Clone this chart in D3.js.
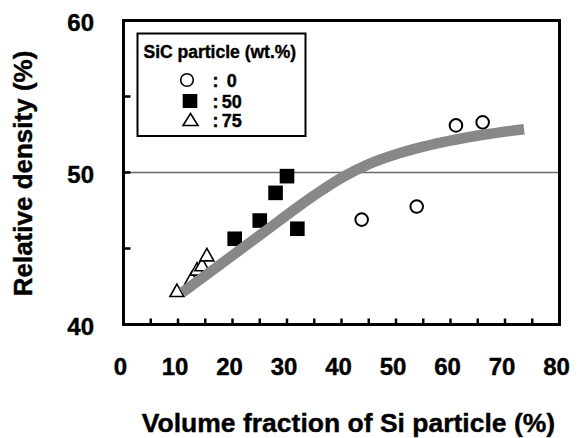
<!DOCTYPE html>
<html>
<head>
<meta charset="utf-8">
<script src="https://cdn.jsdelivr.net/npm/d3@7"></script>
<style>
html,body{margin:0;padding:0;background:#fff;}
svg{display:block;}
text{font-family:"Liberation Sans",Arial,sans-serif;font-weight:bold;fill:#000;stroke:#000;stroke-width:0.4px;}
</style>
</head>
<body>
<svg id="chart" width="582" height="438"></svg>
<script>
// ---- data ----
const xTicks = [0,10,20,30,40,50,60,70,80];
const yTicks = [40,50,60];
const xMinorTicks = [5,15,25,35,45,55,65,75];
const yMinorTicks = [45,55];

const circleX = [43.7, 53.8, 61.0, 65.9];
const circleY = [46.9, 47.76, 53.1, 53.3];

const squareX = [20.4, 25.0, 27.9, 30.0, 31.9];
const squareY = [45.64, 46.84, 48.66, 49.76, 46.3];

const triangleX = [9.8, 12.5, 13.5, 14.4, 15.3];
const triangleY = [42.25, 43.05, 43.66, 43.95, 44.6];

const curveX = [10.8, 25, 35, 40, 45, 50, 55, 60, 66, 73.5];
const curveY = [42.1, 45.87, 48.5, 49.65, 50.55, 51.2, 51.7, 52.1, 52.48, 52.85];

const legendTitle = "SiC particle (wt.%)";
const legendLabels = ["0", "50", "75"];
const xTitle = "Volume fraction of Si particle (%)";
const yTitle = "Relative density (%)";

// ---- drawing ----
const svg = d3.select("#chart");
const x = d3.scaleLinear().domain([0,80]).range([123.5,559.5]);
const y = d3.scaleLinear().domain([40,60]).range([324.5,20.5]);

// reference line at 50
svg.append("line")
  .attr("x1", x(0)).attr("x2", x(80))
  .attr("y1", y(50)).attr("y2", y(50))
  .attr("stroke", "#6a6a6a").attr("stroke-width", 1.5);

// ticks (inward)
const tickG = svg.append("g").attr("stroke","#000").attr("stroke-width",2.5);
xTicks.concat(xMinorTicks).filter(v => v>0 && v<80).forEach(v => {
  tickG.append("line").attr("x1",x(v)).attr("x2",x(v)).attr("y1",y(40)).attr("y2",y(40)-6);
});
yTicks.concat(yMinorTicks).filter(v => v>40 && v<60).forEach(v => {
  tickG.append("line").attr("x1",x(0)).attr("x2",x(0)+7).attr("y1",y(v)).attr("y2",y(v));
});

// frame
svg.append("rect")
  .attr("x", x(0)).attr("y", y(60))
  .attr("width", x(80)-x(0)).attr("height", y(40)-y(60))
  .attr("fill","none").attr("stroke","#000").attr("stroke-width",3);

// tick labels
svg.append("g").selectAll("text").data(xTicks).join("text")
  .attr("x", d => x(d) - 3).attr("y", 375)
  .attr("text-anchor","middle").style("font-size","24px")
  .text(d => d);
svg.append("g").selectAll("text").data(yTicks).join("text")
  .attr("x", 94).attr("y", d => y(d) + 10.5)
  .attr("text-anchor","end").style("font-size","24px")
  .text(d => d);

// axis titles
svg.append("text").attr("x", 348.5).attr("y", 432)
  .attr("text-anchor","middle").style("font-size","26.5px").text(xTitle);
svg.append("text")
  .attr("transform","translate(31.5,173.5) rotate(-90)")
  .attr("text-anchor","middle").style("font-size","26px").text(yTitle);

// markers
const triPath = (cx, cy, w, h) => `M${cx},${cy-h/2}L${cx+w/2},${cy+h/2}L${cx-w/2},${cy+h/2}Z`;

svg.append("g").selectAll("path").data(d3.range(triangleX.length)).join("path")
  .attr("d", i => triPath(x(triangleX[i]), y(triangleY[i]), 14, 12.5))
  .attr("fill","#fff").attr("stroke","#000").attr("stroke-width",1.6);

svg.append("g").selectAll("rect").data(d3.range(squareX.length)).join("rect")
  .attr("x", i => x(squareX[i]) - 7.3).attr("y", i => y(squareY[i]) - 7.3)
  .attr("width", 14.6).attr("height", 14.6).attr("fill","#000");

svg.append("g").selectAll("circle").data(d3.range(circleX.length)).join("circle")
  .attr("cx", i => x(circleX[i])).attr("cy", i => y(circleY[i])).attr("r", 6.3)
  .attr("fill","#fff").attr("stroke","#000").attr("stroke-width",2);

// fitted curve
const line = d3.line().x(d => x(d[0])).y(d => y(d[1])).curve(d3.curveMonotoneX);
svg.append("path")
  .attr("d", line(curveX.map((v,i) => [v, curveY[i]])))
  .attr("fill","none").attr("stroke","#888888").attr("stroke-width",10.5)
  .attr("stroke-linecap","butt");

// legend
const lg = svg.append("g");
lg.append("rect").attr("x",137.5).attr("y",33.5).attr("width",168).attr("height",102.5)
  .attr("fill","#fff").attr("stroke","#000").attr("stroke-width",2);
lg.append("text").attr("x",143.5).attr("y",58.3).style("font-size","17.5px").text(legendTitle);
const rowY = [80, 101, 119.5];
lg.append("circle").attr("cx",187).attr("cy",rowY[0]).attr("r",6.3)
  .attr("fill","#fff").attr("stroke","#000").attr("stroke-width",1.6);
lg.append("rect").attr("x",190-7.3).attr("y",rowY[1]-7).attr("width",14.6).attr("height",14)
  .attr("fill","#000");
lg.append("path").attr("d", triPath(190.5, rowY[2], 15, 12))
  .attr("fill","#fff").attr("stroke","#000").attr("stroke-width",1.6);
legendLabels.forEach((lab, i) => {
  lg.append("text").attr("x",212.5).attr("y",rowY[i]+7).style("font-size","18px").text(":");
  lg.append("text").attr("x", lab.length === 1 ? 226.7 : 221.7).attr("y",rowY[i]+7)
    .style("font-size","18px").text(lab);
});
</script>
</body>
</html>
